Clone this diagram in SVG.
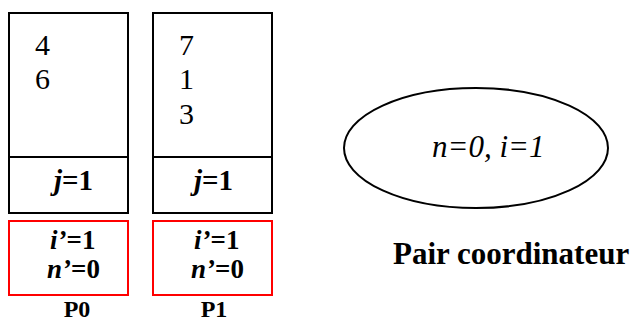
<svg xmlns="http://www.w3.org/2000/svg" width="640" height="322" viewBox="0 0 640 322" font-family="Liberation Serif, serif">
<style>
.box{fill:#fff;stroke:#000;stroke-width:2}
.red{fill:#fff;stroke:#f00;stroke-width:2}
.num{font-size:30px}
.j{font-size:29px;font-weight:bold}
.v{font-size:27px;font-weight:bold}
.lbl{font-size:24px;font-weight:bold;text-anchor:middle}
.big{font-size:31px;font-weight:bold}
.it{font-size:31px;font-style:italic}
</style>
<rect width="640" height="322" fill="#fff"/>
<g id="P0">
<rect class="box" x="9" y="13" width="119" height="200"/>
<line x1="9" y1="157" x2="128" y2="157" stroke="#000" stroke-width="2"/>
<text class="num" x="35" y="55">4</text>
<text class="num" x="35" y="89">6</text>
<text class="j" x="54" y="190"><tspan font-style="italic">j</tspan>=1</text>
<rect class="red" x="9" y="221" width="119" height="74"/>
<text class="v" x="50" y="249"><tspan font-style="italic">i’</tspan>=1</text>
<text class="v" x="47" y="278"><tspan font-style="italic">n’</tspan>=0</text>
<text class="lbl" x="77" y="317">P0</text>
</g>
<g id="P1">
<rect class="box" x="153" y="13" width="119" height="200"/>
<line x1="153" y1="157" x2="272" y2="157" stroke="#000" stroke-width="2"/>
<text class="num" x="179" y="55">7</text>
<text class="num" x="179" y="89">1</text>
<text class="num" x="179" y="124">3</text>
<text class="j" x="194" y="190"><tspan font-style="italic">j</tspan>=1</text>
<rect class="red" x="153" y="221" width="119" height="74"/>
<text class="v" x="194" y="249"><tspan font-style="italic">i’</tspan>=1</text>
<text class="v" x="191" y="278"><tspan font-style="italic">n’</tspan>=0</text>
<text class="lbl" x="214" y="317">P1</text>
</g>
<g id="coordinateur">
<ellipse cx="476" cy="148" rx="132" ry="60" fill="#fff" stroke="#000" stroke-width="2"/>
<text class="it" x="432" y="157">n=0, i=1</text>
<text class="big" x="393" y="264">Pair coordinateur</text>
</g>
<g id="connectors"/>
</svg>
